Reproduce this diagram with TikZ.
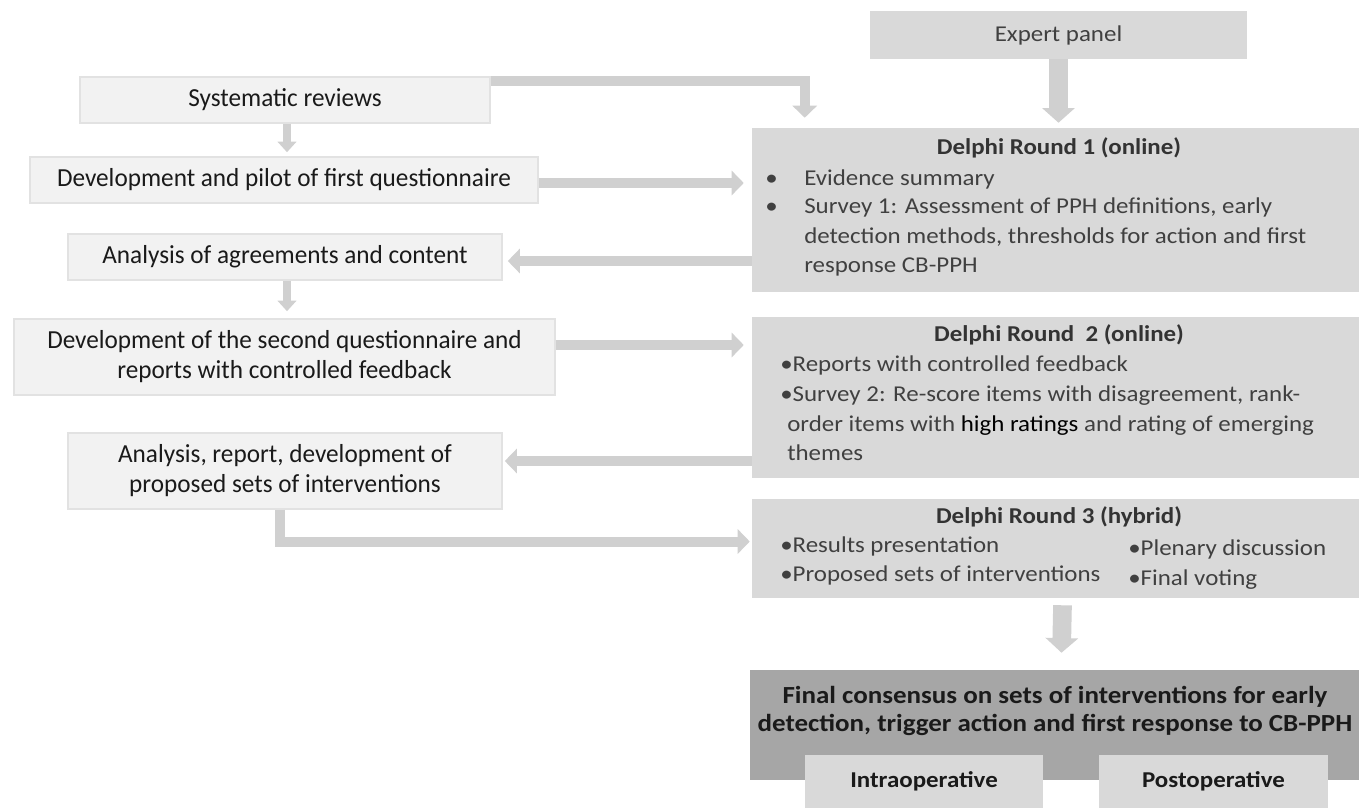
\documentclass[tikz,border=0pt]{standalone}
\usepackage{fontspec}
\setmainfont{Carlito}
\newfontfamily\leftfont[FakeStretch=0.97]{Carlito}
\newfontfamily\rightfont[FakeStretch=1.1]{Carlito}
\usetikzlibrary{arrows.meta,calc}
\definecolor{leftfill}{HTML}{F2F2F2}
\definecolor{leftdraw}{HTML}{E2E2E2}
\definecolor{rgray}{HTML}{D9D9D9}
\definecolor{argray}{HTML}{D0D0D0}
\definecolor{fingray}{HTML}{A6A6A6}
\definecolor{ltext}{HTML}{1A1A1A}
\definecolor{rtext}{HTML}{404040}
\tikzset{
  leftbox/.style={fill=leftfill, draw=leftdraw, line width=1.2pt, inner sep=0pt,
    align=center, text=ltext, font=\leftfont\fontsize{19.5}{22.5}\selectfont},
  rightbox/.style={fill=rgray, draw=none, inner sep=0pt},
  rline/.style={anchor=mid west, inner sep=0pt, text=rtext, font=\rightfont\fontsize{17}{21.75}\selectfont},
  rtitle/.style={anchor=mid, inner sep=0pt, text=rtext!80!black, font=\rightfont\bfseries\fontsize{17}{21.75}\selectfont},
  subbox/.style={fill=rgray, inner sep=0pt, minimum height=53*0.75pt},
  sublabel/.style={anchor=mid, inner sep=0pt, text=ltext, font=\rightfont\bfseries\fontsize{17}{21.75}\selectfont},
  harr/.style={draw=argray, line width=7.5pt, line join=miter, -{Triangle[length=9pt,width=18pt]}},
  thinarr/.style={draw=argray, line width=6pt, -{Triangle[length=8pt,width=14pt]}},
  bigarr/.style={draw=argray, line width=14pt, -{Triangle[length=11pt,width=24pt]}},
}
\begin{document}
\begin{tikzpicture}[x=0.75pt,y=-0.75pt]
\useasboundingbox (0,0) rectangle (1359,808);
% left column
\node[leftbox, minimum width=410*0.75pt, minimum height=46*0.75pt] (sys) at (285,100) {Systematic reviews};
\node[leftbox, minimum width=508*0.75pt, minimum height=46*0.75pt] (dev1) at (284,180) {Development and pilot of first questionnaire};
\node[leftbox, minimum width=434*0.75pt, minimum height=46*0.75pt] (ana1) at (285,257) {Analysis of agreements and content};
\node[leftbox, minimum width=541*0.75pt, minimum height=76*0.75pt] (dev2) at (284.5,357) {Development of the second questionnaire and\\reports with controlled feedback};
\node[leftbox, minimum width=434*0.75pt, minimum height=76*0.75pt] (ana2) at (285,471) {Analysis, report, development of\\proposed sets of interventions};
% right column
\node[rightbox, minimum width=377*0.75pt, minimum height=48*0.75pt, text=rtext, font=\rightfont\fontsize{17}{21.75}\selectfont] (exp) at (1058.5,35) {Expert panel};
\node[rightbox, minimum width=607*0.75pt, minimum height=164*0.75pt] (d1) at (1055.5,210) {};
\node[rightbox, minimum width=607*0.75pt, minimum height=161*0.75pt] (d2) at (1055.5,397.5) {};
\node[rightbox, minimum width=607*0.75pt, minimum height=99*0.75pt] (d3) at (1055.5,548.5) {};
\node[fill=fingray, inner sep=0pt, minimum width=609*0.75pt, minimum height=110*0.75pt] (fin) at (1054.5,725) {};
\node[subbox, minimum width=238*0.75pt] (intra) at (924,781.5) {};
\node[subbox, minimum width=229*0.75pt] (post) at (1213.5,781.5) {};
\node[sublabel] (intrat) at (924,784) {Intraoperative};
\node[sublabel] (postt) at (1213.5,784) {Postoperative};
% Delphi 1 text
\node[rtitle] (d1t) at (1059,151) {Delphi Round 1 (online)};
\node[rline] (d1b1) at (765,182) {\textbullet};
\node[rline] (d1l1) at (804,182) {Evidence summary};
\node[rline] (d1b2) at (765,210) {\textbullet};
\node[rline] (d1l2) at (804,210) {Survey 1: Assessment of PPH definitions, early};
\node[rline] (d1l3) at (804,240) {detection methods, thresholds for action and first};
\node[rline] (d1l4) at (804,269) {response CB-PPH};
% Delphi 2 text
\node[rtitle] (d2t) at (1059,338) {Delphi Round\ \ 2 (online)};
\node[rline] (d2l1) at (780,368) {\textbullet Reports with controlled feedback};
\node[rline] (d2l2) at (780,398) {\textbullet Survey 2: Re-score items with disagreement, rank-};
\node[rline] (d2l3) at (787,428) {order items with \textcolor{black}{high ratings} and rating of emerging};
\node[rline] (d2l4) at (787,457) {themes};
% Delphi 3 text
\node[rtitle] (d3t) at (1059,520) {Delphi Round 3 (hybrid)};
\node[rline] (d3l1) at (780,549) {\textbullet Results presentation};
\node[rline] (d3l2) at (780,578) {\textbullet Proposed sets of interventions};
\node[rline] (d3l3) at (1128,552) {\textbullet Plenary discussion};
\node[rline] (d3l4) at (1128,582) {\textbullet Final voting};
% final text
\node[anchor=center, inner sep=0pt, align=center, text=ltext, font=\rightfont\bfseries\fontsize{18.4}{21}\selectfont] (fint) at (1055,711) {Final consensus on sets of interventions for early\\detection, trigger action and first response to CB-PPH};
% connectors
\draw[harr] ($(sys.north east)+(0,5)$) -| ($(d1.north west)+(53,-10)$);
\draw[bigarr] ($(exp.south)+(0,0)$) -- ($(exp.south |- d1.north)+(0,-5)$);
\draw[thinarr] ($(sys.south)+(2,0)$) -- ($(sys.south |- dev1.north)+(2,-4)$);
\draw[harr] ($(dev1.east)+(0,3)$) -- ($(d1.west |- dev1.east)+(-8,3)$);
\draw[harr] ($(d1.west |- ana1.east)+(0,4)$) -- ($(ana1.east)+(5,4)$);
\draw[thinarr] ($(ana1.south)+(2,0)$) -- ($(ana1.south |- dev2.north)+(2,-7)$);
\draw[harr] ($(dev2.east)+(0,-12)$) -- ($(d2.west |- dev2.east)+(-8,-12)$);
\draw[harr] ($(d2.west |- ana2.east)+(0,-10)$) -- ($(ana2.east)+(2,-10)$);
\draw[harr] ($(ana2.south)+(-5,0)$) |- ($(d3.west)+(-2,-7)$);
\draw[bigarr] ($(d3.south)+(7,7)$) -- ($(fin.north)+(7,-17)$);
\end{tikzpicture}
\end{document}
